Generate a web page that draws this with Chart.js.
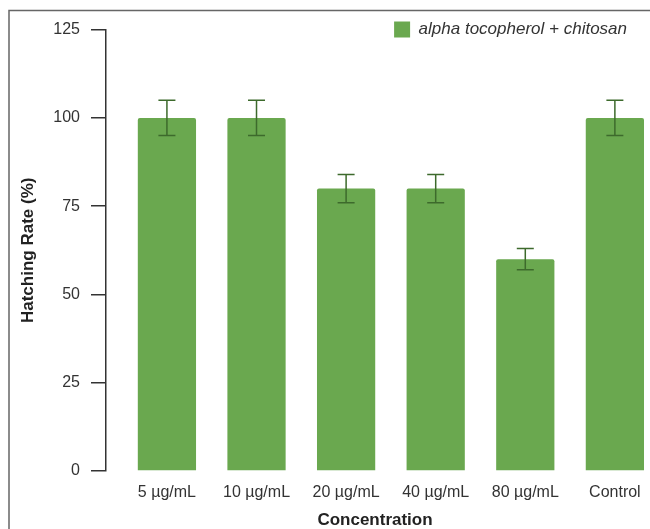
<!DOCTYPE html>
<html>
<head>
<meta charset="utf-8">
<script src="https://cdn.jsdelivr.net/npm/chart.js@4/dist/chart.umd.min.js"></script>
<style>
  body { margin: 0; background: #fff; }
  #wrap { position: relative; width: 650px; height: 529px; }
</style>
</head>
<body>
<div id="wrap"><canvas id="bar-chart"></canvas></div>
<script>
var categories = ["5 µg/mL", "10 µg/mL", "20 µg/mL", "40 µg/mL", "80 µg/mL", "Control"];
var hatchingRate = [100, 100, 80, 80, 60, 100];
var errors = [5, 5, 4, 4, 3, 5];
var yTicks = [0, 25, 50, 75, 100, 125];
var seriesName = "alpha tocopherol + chitosan";

var barGreen = "#6aa84f";
var errGreen = "#3d6a2c";

// frame round the figure (top and left edges)
var framePlugin = {
    id: "frame",
    beforeDraw: function (chart) {
        var ctx = chart.ctx;
        ctx.save();
        ctx.strokeStyle = "#666";
        ctx.lineWidth = 1.5;
        ctx.beginPath();
        ctx.moveTo(9, chart.height);
        ctx.lineTo(9, 10.5);
        ctx.lineTo(chart.width, 10.5);
        ctx.stroke();
        ctx.restore();
    },
};

// legend sits over the plot in the reference, so move it down a little
var legendShift = {
    id: "legendShift",
    afterLayout: function (chart) {
        var lg = chart.legend;
        lg.top += 18.4;
        lg.bottom += 18.4;
        lg.left -= 13;
        lg.right -= 13;
    },
};

var errorBars = {
    id: "errorBars",
    afterDatasetsDraw: function (chart) {
        var ctx = chart.ctx;
        var xs = chart.scales.x;
        var ys = chart.scales.y;
        ctx.save();
        ctx.strokeStyle = errGreen;
        ctx.lineWidth = 1.5;
        hatchingRate.forEach(function (v, i) {
            var x = xs.getPixelForValue(i);
            var top = ys.getPixelForValue(v + errors[i]);
            var bot = ys.getPixelForValue(v - errors[i]);
            ctx.beginPath();
            ctx.moveTo(x, top);
            ctx.lineTo(x, bot);
            ctx.moveTo(x - 8.5, top);
            ctx.lineTo(x + 8.5, top);
            ctx.moveTo(x - 8.5, bot);
            ctx.lineTo(x + 8.5, bot);
            ctx.stroke();
        });
        ctx.restore();
    },
};

var config = {
    type: "bar",
    data: {
        datasets: [
            {
                label: seriesName,
                data: hatchingRate.map(function (v, i) {
                    return { x: i, y: v };
                }),
                backgroundColor: barGreen,
                borderWidth: 0,
                borderRadius: 2,
                borderSkipped: "start",
                barPercentage: 0.65,
                categoryPercentage: 1,
                clip: false,
            },
        ],
    },
    options: {
        responsive: true,
        maintainAspectRatio: false,
        animation: false,
        layout: { padding: { left: 10, right: 6, top: -1.4, bottom: -2 } },
        plugins: {
            legend: {
                position: "top",
                align: "end",
                labels: {
                    boxWidth: 16,
                    boxHeight: 16,
                    padding: 4,
                    color: "#333",
                    font: { family: "'Liberation Sans', Arial, sans-serif", size: 17, style: "italic" },
                },
            },
            tooltip: { enabled: false },
        },
        scales: {
            x: {
                type: "linear",
                offset: false,
                min: -0.68,
                max: 5.325,
                afterBuildTicks: function (axis) {
                    axis.ticks = categories.map(function (c, i) {
                        return { value: i };
                    });
                },
                afterFit: function (scale) {
                    scale.height = 60;
                },
                grid: { display: false, drawTicks: true, tickLength: 12, offset: false },
                border: { display: false },
                ticks: {
                    padding: 0,
                    color: "#333",
                    maxRotation: 0,
                    autoSkip: false,
                    font: { family: "'Liberation Sans', Arial, sans-serif", size: 16 },
                    callback: function (value) {
                        return categories[value];
                    },
                },
                title: {
                    display: true,
                    text: "Concentration",
                    color: "#222",
                    padding: { top: 0, bottom: 0 },
                    font: { family: "'Liberation Sans', Arial, sans-serif", size: 17, weight: "bold" },
                },
            },
            y: {
                min: 0,
                max: 125,
                afterBuildTicks: function (axis) {
                    axis.ticks = yTicks.map(function (t) {
                        return { value: t };
                    });
                },
                afterFit: function (scale) {
                    scale.width = 96;
                },
                grid: {
                    drawOnChartArea: false,
                    drawTicks: true,
                    tickLength: 15,
                    color: "#333",
                    lineWidth: 1.5,
                },
                border: { color: "#333", width: 1.5 },
                ticks: {
                    padding: 11,
                    color: "#333",
                    font: { family: "'Liberation Sans', Arial, sans-serif", size: 16 },
                },
                title: {
                    display: true,
                    text: "Hatching Rate (%)",
                    color: "#222",
                    padding: { top: 8, bottom: 0 },
                    font: { family: "'Liberation Sans', Arial, sans-serif", size: 17, weight: "bold" },
                },
            },
        },
    },
    plugins: [framePlugin, legendShift, errorBars],
};

var hatchingChart = new Chart(document.getElementById("bar-chart").getContext("2d"), config);
</script>
</body>
</html>
